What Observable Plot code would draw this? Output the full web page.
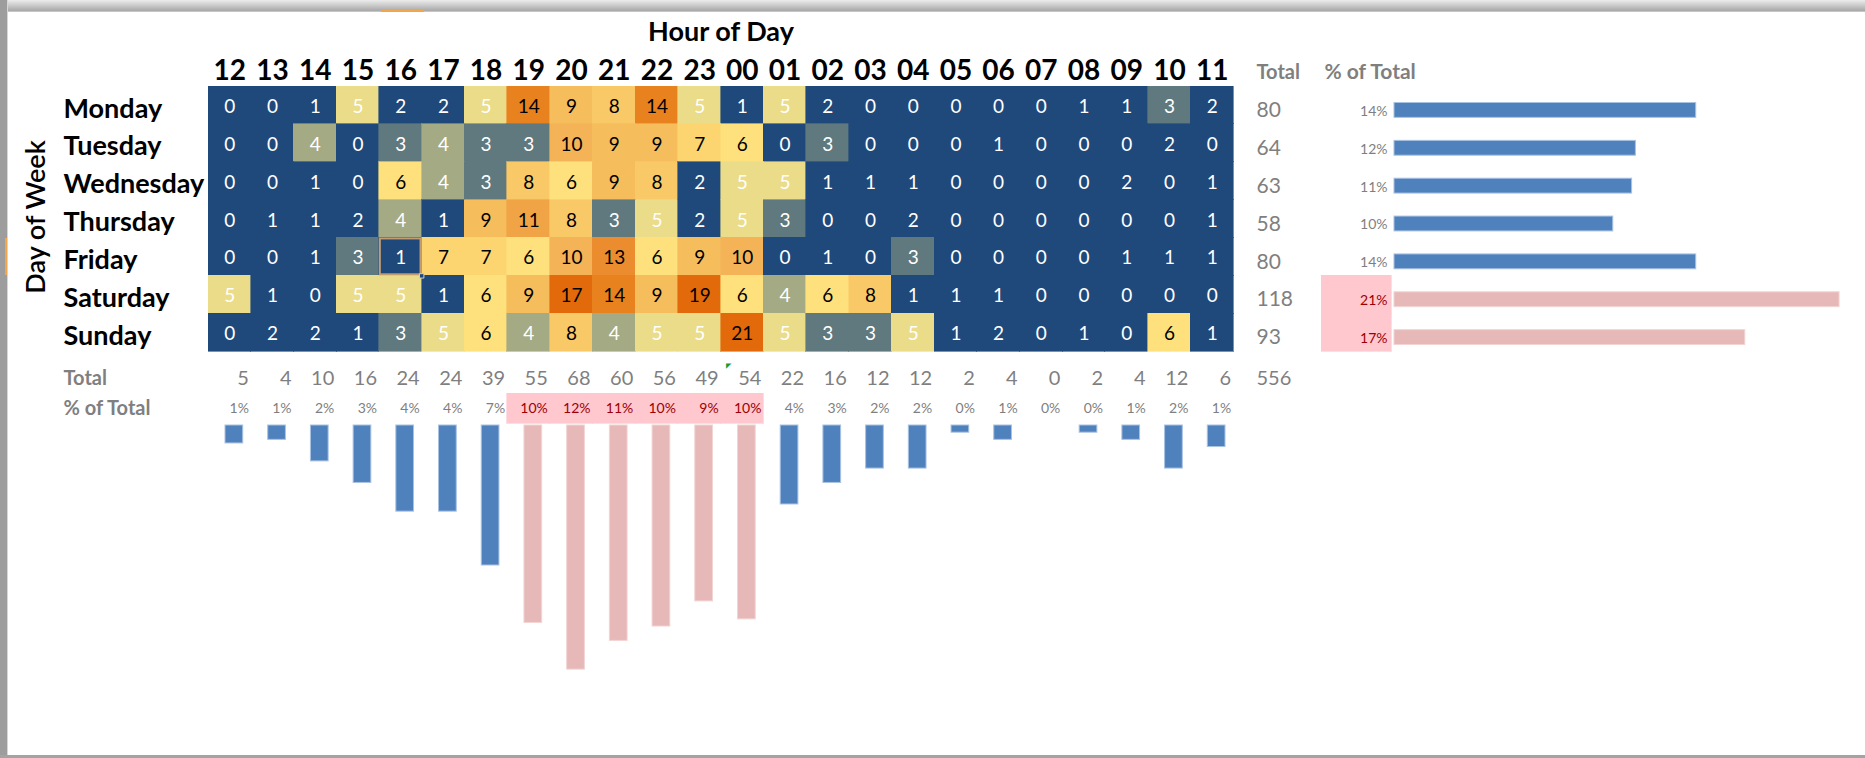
<!DOCTYPE html>
<html>
<head>
<meta charset="utf-8">
<script src="https://cdn.jsdelivr.net/npm/d3@7"></script>
<script src="https://cdn.jsdelivr.net/npm/@observablehq/plot@0.6"></script>
<style>
html, body { margin: 0; padding: 0; background: #fff; }
#root { position: relative; width: 1865px; height: 758px; overflow: hidden; background: #fff; font-family: Lato, "Open Sans", sans-serif; }
.frame-top { position: absolute; left: 0; top: 0; width: 1865px; height: 11px; background: linear-gradient(#ececec, #a7a7a7); border-bottom: 1px solid #b9c8da; z-index: 5; }
.frame-left { position: absolute; left: 0; top: 0; width: 7px; height: 758px; background: #9d9d9d; border-right: 1px solid #c9d9ee; z-index: 5; }
.frame-bottom { position: absolute; left: 0; bottom: 0; width: 1865px; height: 3px; background: #a3a3a3; z-index: 5; }
.hl-top { position: absolute; left: 381px; top: 10px; width: 43px; height: 2px; background: #f2a54a; z-index: 6; }
.hl-left { position: absolute; left: 5px; top: 238px; width: 2px; height: 37px; background: #f2a54a; z-index: 6; }
.pane { position: absolute; }
.pane svg { display: block; max-width: none !important; }
</style>
</head>
<body>
<div id="root">
  <div class="frame-top"></div>
  <div class="frame-left"></div>
  <div class="frame-bottom"></div>
  <div class="hl-top"></div>
  <div class="hl-left"></div>
</div>
<script>
// ---------- data ----------
const hours = ["12","13","14","15","16","17","18","19","20","21","22","23","00","01","02","03","04","05","06","07","08","09","10","11"];
const days = ["Monday","Tuesday","Wednesday","Thursday","Friday","Saturday","Sunday"];
const monday    = [0,0,1,5,2,2,5,14,9,8,14,5,1,5,2,0,0,0,0,0,1,1,3,2];
const tuesday   = [0,0,4,0,3,4,3,3,10,9,9,7,6,0,3,0,0,0,1,0,0,0,2,0];
const wednesday = [0,0,1,0,6,4,3,8,6,9,8,2,5,5,1,1,1,0,0,0,0,2,0,1];
const thursday  = [0,1,1,2,4,1,9,11,8,3,5,2,5,3,0,0,2,0,0,0,0,0,0,1];
const friday    = [0,0,1,3,1,7,7,6,10,13,6,9,10,0,1,0,3,0,0,0,0,1,1,1];
const saturday  = [5,1,0,5,5,1,6,9,17,14,9,19,6,4,6,8,1,1,1,0,0,0,0,0];
const sunday    = [0,2,2,1,3,5,6,4,8,4,5,5,21,5,3,3,5,1,2,0,1,0,6,1];
const counts = [monday, tuesday, wednesday, thursday, friday, saturday, sunday];
const selectedCell = {day: "Friday", hour: "16"};

// ---------- derived tables ----------
const cells = days.flatMap((d, i) => hours.map((h, j) => ({day: d, hour: h, value: counts[i][j]})));
const dayTotals = days.map((d, i) => ({day: d, total: d3.sum(counts[i])}));
const hourTotals = hours.map((h, j) => ({hour: h, total: d3.sum(counts, r => r[j])}));
const grand = d3.sum(dayTotals, d => d.total);
function markTop(arr) {
  const n = Math.round(arr.length / 4);
  const cut = arr.map(d => d.total).sort(d3.descending)[n - 1];
  arr.forEach(d => { d.pct = d.total / grand; d.top = d.total >= cut; });
}
markTop(dayTotals);
markTop(hourTotals);
const fmtPct = d3.format(".0%");

// ---------- styling ----------
const FONT = "Lato, 'Open Sans', sans-serif";
const GRAY = "#7f7f7f";
const DARKRED = "#9c0006";
const PINKBG = "#ffc7ce";
const BLUE = "#4f81bd";
const PINKBAR = "#e6b8b7";
const W = 1865;
const svgStyle = {fontFamily: FONT, background: "transparent", overflow: "visible"};

const root = document.getElementById("root");
function place(node, left, top) {
  const div = document.createElement("div");
  div.className = "pane";
  div.style.left = left + "px";
  div.style.top = top + "px";
  div.appendChild(node);
  root.appendChild(div);
}

// ---------- heatmap ----------
const H1 = 360;
const heat = Plot.plot({
  width: W, height: H1,
  marginLeft: 208, marginRight: W - 1233, marginTop: 86, marginBottom: H1 - 351,
  x: {domain: hours, axis: null, padding: 0, round: false},
  y: {domain: days, axis: null, padding: 0, round: false},
  color: {
    type: "threshold",
    domain: [3, 4, 5, 6, 7, 8, 9, 10, 11, 13, 14, 17],
    range: ["#1f497b", "#5f797e", "#a4aa84", "#ebdc89", "#fee17c", "#fcd571", "#f9c967", "#f5bd5c", "#f3b356", "#f0a445", "#eb8c2f", "#e8821f", "#e26a0a"]
  },
  style: svgStyle,
  marks: [
    Plot.cell(cells, {x: "hour", y: "day", fill: "value", stroke: "value", strokeWidth: 0.6, shapeRendering: "crispEdges"}),
    Plot.text(cells.filter(d => d.value < 6), {x: "hour", y: "day", text: d => String(d.value), fill: "#fff", fontSize: 19, dy: 1.5}),
    Plot.text(cells.filter(d => d.value >= 6), {x: "hour", y: "day", text: d => String(d.value), fill: "#000", fontSize: 19, dy: 1.5}),
    Plot.cell(cells.filter(d => d.day === selectedCell.day && d.hour === selectedCell.hour), {x: "hour", y: "day", fill: "none", stroke: "#c49c72", strokeWidth: 2, inset: 1}),
    Plot.dot(cells.filter(d => d.day === selectedCell.day && d.hour === selectedCell.hour), {x: "hour", y: "day", dx: 21, dy: 19, symbol: "square", r: 2.5, fill: "#1f497b", stroke: "#e0cdb4", strokeWidth: 1}),
    // hour labels
    Plot.text(hours, {x: d => d, text: d => d, frameAnchor: "top", lineAnchor: "bottom", dy: -7, fontSize: 28, fontWeight: "bold", fill: "#000"}),
    Plot.text(["Hour of Day"], {text: d => d, frameAnchor: "top", lineAnchor: "bottom", dy: -46, fontSize: 27, fontWeight: "bold", fill: "#000"}),
    // day labels
    Plot.text(days, {y: d => d, text: d => d, frameAnchor: "left", textAnchor: "start", dx: -145, dy: 3.5, fontSize: 27, fontWeight: "bold", fill: "#000"}),
    Plot.text(["Day of Week"], {text: d => d, frameAnchor: "left", textAnchor: "middle", rotate: -90, dx: -172, dy: -2, fontSize: 27, fontWeight: 600, fill: "#000"}),
    // totals column
    Plot.text(["Total"], {text: d => d, frameAnchor: "top-right", textAnchor: "start", lineAnchor: "bottom", dx: 23, dy: -8, fontSize: 20, fontWeight: "bold", fill: GRAY}),
    Plot.text(["% of Total"], {text: d => d, frameAnchor: "top-right", textAnchor: "start", lineAnchor: "bottom", dx: 91, dy: -8, fontSize: 21, fontWeight: "bold", fill: GRAY}),
    Plot.text(dayTotals, {y: "day", text: d => String(d.total), frameAnchor: "right", textAnchor: "start", dx: 23, dy: 5, fontSize: 21, fill: GRAY})
  ]
});
place(heat, 0, 0);

// ---------- % column for days ----------
const pctCol = Plot.plot({
  width: 161, height: H1,
  marginLeft: 88, marginRight: 3, marginTop: 86, marginBottom: H1 - 351,
  x: {domain: ["pct"], axis: null, padding: 0, round: false},
  y: {domain: days, axis: null, padding: 0, round: false},
  style: svgStyle,
  marks: [
    Plot.cell(dayTotals.filter(d => d.top), {x: () => "pct", y: "day", fill: PINKBG, stroke: PINKBG, strokeWidth: 0.6, shapeRendering: "crispEdges"}),
    Plot.text(dayTotals.filter(d => !d.top), {y: "day", text: d => fmtPct(d.pct), frameAnchor: "right", textAnchor: "end", dx: -4, dy: 6, fontSize: 14, fill: GRAY}),
    Plot.text(dayTotals.filter(d => d.top), {y: "day", text: d => fmtPct(d.pct), frameAnchor: "right", textAnchor: "end", dx: -4, dy: 6, fontSize: 14, fill: DARKRED})
  ]
});
place(pctCol, 1233, 0);

// ---------- horizontal bars for days ----------
const dayBars = Plot.plot({
  width: 471, height: H1,
  marginLeft: 0, marginRight: 0, marginTop: 86, marginBottom: H1 - 351,
  x: {domain: [0, 0.2246], axis: null},
  y: {domain: days, axis: null, padding: 0, round: false},
  style: svgStyle,
  marks: [
    Plot.barX(dayTotals.filter(d => !d.top), {x: "pct", y: "day", fill: BLUE, stroke: "#a9c2e2", strokeWidth: 1, insetTop: 16.5, insetBottom: 6.5}),
    Plot.barX(dayTotals.filter(d => d.top), {x: "pct", y: "day", fill: PINKBAR, stroke: "#f2d4d3", strokeWidth: 1, insetTop: 16.5, insetBottom: 6.5})
  ]
});
place(dayBars, 1394, 0);

// ---------- totals / % rows for hours ----------
const rowLabels = ["Total", "% of Total"];
const H2 = 65;
const hourText = Plot.plot({
  width: W, height: H2,
  marginLeft: 208, marginRight: W - 1233, marginTop: 3, marginBottom: 2,
  x: {domain: hours, axis: null, padding: 0, round: false},
  y: {domain: rowLabels, axis: null, padding: 0, round: false},
  style: svgStyle,
  marks: [
    Plot.cell(hourTotals.filter(d => d.top), {x: "hour", y: () => "% of Total", fill: PINKBG, stroke: PINKBG, strokeWidth: 0.6, shapeRendering: "crispEdges"}),
    Plot.text(rowLabels, {y: d => d, text: d => d, frameAnchor: "left", textAnchor: "start", dx: -145, fontSize: 20, fontWeight: "bold", fill: GRAY}),
    Plot.text(hourTotals, {x: "hour", y: () => "Total", text: d => String(d.total), textAnchor: "end", dx: 19, fontSize: 20, fill: GRAY}),
    Plot.text([grand], {y: () => "Total", text: d => String(d), frameAnchor: "right", textAnchor: "start", dx: 23, fontSize: 20, fill: GRAY}),
    Plot.text(hourTotals.filter(d => !d.top), {x: "hour", y: () => "% of Total", text: d => fmtPct(d.pct), textAnchor: "end", dx: 19, fontSize: 14, fill: GRAY}),
    Plot.text(hourTotals.filter(d => d.top), {x: "hour", y: () => "% of Total", text: d => fmtPct(d.pct), textAnchor: "end", dx: 19, fontSize: 14, fill: DARKRED}),
    Plot.text(["00"], {x: d => d, y: () => "Total", text: () => "\u25E4", dx: -14, dy: -13, fontSize: 7, fill: "#1f9a2e"})
  ]
});
place(hourText, 0, 360);

// ---------- vertical bars for hours ----------
const H3 = 333;
const hourBars = Plot.plot({
  width: W, height: H3,
  marginLeft: 208, marginRight: W - 1233, marginTop: 0, marginBottom: 0,
  x: {domain: hours, axis: null, padding: 0, round: false},
  y: {domain: [0, H3 / 1996], reverse: true, axis: null},
  style: svgStyle,
  marks: [
    Plot.barY(hourTotals.filter(d => !d.top), {x: "hour", y: "pct", fill: BLUE, stroke: "#a9c2e2", strokeWidth: 1, insetLeft: 17, insetRight: 8}),
    Plot.barY(hourTotals.filter(d => d.top), {x: "hour", y: "pct", fill: PINKBAR, stroke: "#f2d4d3", strokeWidth: 1, insetLeft: 17, insetRight: 8})
  ]
});
place(hourBars, 0, 425);
</script>
</body>
</html>
